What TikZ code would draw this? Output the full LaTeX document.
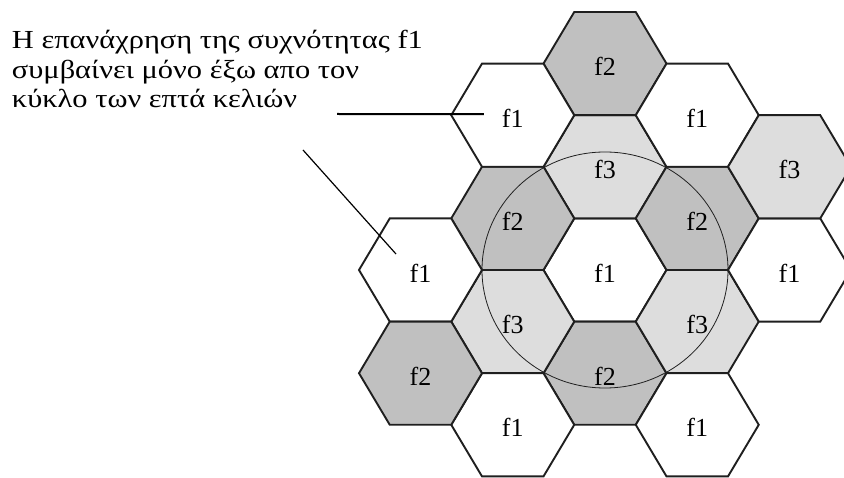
\documentclass[tikz,border=0pt]{standalone}
\usepackage{fontspec}
\setmainfont{Liberation Serif}
\newfontfamily\notefont[FakeStretch=1.17]{Liberation Serif}
\definecolor{cEdge}{HTML}{1F1F1F}
\definecolor{cFa}{HTML}{FFFFFF}
\definecolor{cFb}{HTML}{C0C0C0}
\definecolor{cFc}{HTML}{DDDDDD}
\tikzset{
  cell/.style    ={draw=cEdge,line width=1.9pt,line join=miter},
  lbl/.style     ={font=\fontsize{26}{26}\selectfont,inner sep=0pt,yshift=-3pt},
  note/.style    ={font=\notefont\fontsize{26}{29.5}\selectfont,align=left,inner sep=0pt},
  ring/.style    ={draw=cEdge,line width=0.8pt},
  lead/.style    ={draw=black,line width=2pt},
  leadthin/.style={draw=black,line width=1.2pt},
}

\begin{document}
\begin{tikzpicture}[x=1pt,y=1pt,every node/.style={outer sep=0pt}]
\useasboundingbox (0,0) rectangle (844,-478);
\clip (0,0) rectangle (844,-478);

% cells: name/column/half-row/fill/label
\foreach \n/\k/\j/\c/\t in {ctr/0/0/cFa/f1, n/0/-2/cFc/f3, nn/0/-4/cFb/f2, s/0/2/cFb/f2,
                           nw/-1/-1/cFb/f2, sw/-1/1/cFc/f3, nnw/-1/-3/cFa/f1, ssw/-1/3/cFa/f1,
                           ne/1/-1/cFb/f2, se/1/1/cFc/f3, nne/1/-3/cFa/f1, sse/1/3/cFa/f1,
                           w/-2/0/cFa/f1, wsw/-2/2/cFb/f2, e/2/0/cFa/f1, ene/2/-2/cFc/f3}
{
  \pgfmathsetmacro{\cx}{605+92.25*\k}
  \pgfmathsetmacro{\cy}{-270-51.6*\j}
  \coordinate (h-\n) at (\cx,\cy);
  \draw[cell,fill=\c] (h-\n) ++(61.5,0) -- ++(-30.75,51.6) -- ++(-61.5,0)
    -- ++(-30.75,-51.6) -- ++(30.75,-51.6) -- ++(61.5,0) -- cycle;
  \node[lbl] (l-\n) at (h-\n) {\t};
}

\draw[ring] (h-ctr) ellipse [x radius=123, y radius=118];

\node[note,anchor=north west] (note) at (12,-30.5)
  {Η επανάχρηση της συχνότητας f1\\συμβαίνει μόνο έξω απο τον\\κύκλο των επτά κελιών};

\coordinate (t1) at (337,-114);
\coordinate (t2) at (303,-150);
\draw[lead] (t1) -- ([xshift=-29pt,yshift=1pt]h-nnw);
\draw[leadthin] (t2) -- ([xshift=-24.5pt,yshift=16pt]h-w);
\end{tikzpicture}
\end{document}
